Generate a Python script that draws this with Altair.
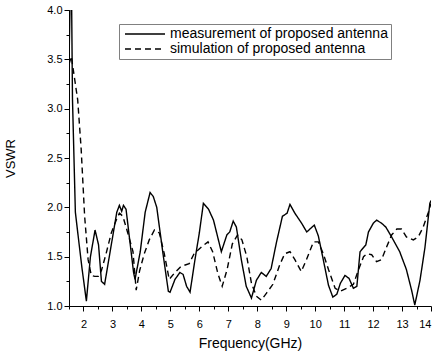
import altair as alt
import pandas as pd

series_names = ["measurement of proposed antenna", "simulation of proposed antenna"]

meas_x = [1.50, 1.55, 1.59, 1.62, 1.72, 1.84, 1.95, 2.10, 2.24, 2.40, 2.52, 2.62, 2.73,
          3.15, 3.24, 3.32, 3.38, 3.47, 3.73, 3.78, 3.96, 4.13, 4.30, 4.41, 4.53, 4.76,
          4.93, 4.99, 5.16, 5.33, 5.44, 5.56, 5.68, 5.85, 6.00, 6.14, 6.32, 6.49, 6.76,
          6.95, 7.05, 7.17, 7.28, 7.45, 7.62, 7.80, 7.97, 8.14, 8.31, 8.48, 8.66, 8.87,
          9.03, 9.13, 9.30, 9.53, 9.71, 9.82, 9.97, 10.11, 10.28, 10.46, 10.61, 10.75,
          10.87, 11.03, 11.17, 11.32, 11.44, 11.55, 11.75, 11.84, 12.01, 12.12, 12.29,
          12.44, 12.64, 12.92, 13.15, 13.33, 13.44, 13.62, 13.79, 13.96, 14.00]
meas_y = [3.45, 4.30, 4.10, 3.10, 1.95, 1.65, 1.38, 1.05, 1.50, 1.77, 1.62, 1.25, 1.22,
          1.95, 2.02, 1.96, 2.02, 1.98, 1.34, 1.27, 1.55, 1.95, 2.15, 2.11, 2.00, 1.50,
          1.15, 1.14, 1.27, 1.34, 1.32, 1.20, 1.14, 1.47, 1.74, 2.04, 1.98, 1.87, 1.55,
          1.72, 1.75, 1.86, 1.80, 1.47, 1.20, 1.08, 1.26, 1.34, 1.30, 1.38, 1.64, 1.91,
          1.94, 2.03, 1.94, 1.84, 1.75, 1.78, 1.82, 1.71, 1.47, 1.21, 1.09, 1.12,
          1.23, 1.31, 1.28, 1.18, 1.20, 1.55, 1.62, 1.75, 1.84, 1.87, 1.84,
          1.80, 1.70, 1.55, 1.37, 1.16, 1.01, 1.26, 1.59, 2.04, 2.07]

sim_x = [1.50, 1.58, 1.80, 1.92, 2.04, 2.16, 2.27, 2.39, 2.51, 2.62, 2.78, 2.96, 3.13,
         3.24, 3.36, 3.53, 3.71, 3.82, 3.94, 4.10, 4.27, 4.45, 4.62, 4.79, 4.96, 5.13,
         5.36, 5.65, 5.82, 6.08, 6.30, 6.46, 6.64, 6.79, 6.96, 7.14, 7.32, 7.47, 7.64,
         7.80, 7.97, 8.14, 8.32, 8.54, 8.78, 8.95, 9.13, 9.30, 9.52, 9.70, 9.94, 10.11,
         10.28, 10.46, 10.69, 10.87, 11.09, 11.32, 11.50, 11.67, 11.79, 11.95, 12.12,
         12.29, 12.47, 12.64, 12.82, 12.98, 13.15, 13.39, 13.56, 13.73, 13.91, 14.00]
sim_y = [3.45, 3.53, 3.09, 2.59, 1.91, 1.47, 1.31, 1.30, 1.30, 1.36, 1.53, 1.74, 1.87,
         1.94, 1.91, 1.74, 1.55, 1.16, 1.36, 1.53, 1.67, 1.77, 1.74, 1.53, 1.27, 1.33,
         1.40, 1.43, 1.53, 1.60, 1.65, 1.55, 1.33, 1.20, 1.37, 1.63, 1.72, 1.67, 1.50,
         1.23, 1.10, 1.06, 1.13, 1.22, 1.42, 1.53, 1.55, 1.47, 1.35, 1.47, 1.65, 1.65,
         1.53, 1.37, 1.18, 1.15, 1.18, 1.22, 1.37, 1.50, 1.53, 1.52, 1.45,
         1.47, 1.60, 1.72, 1.78, 1.78, 1.70, 1.67, 1.70, 1.80, 1.95, 2.04]

x_tick_values = [1.5, 2, 2.5, 3, 3.5, 4, 4.5, 5, 5.5, 6, 6.5, 7, 7.5, 8, 8.5, 9, 9.5,
                 10, 10.5, 11, 11.5, 12, 12.5, 13, 13.5, 14]
y_tick_values = [1.0, 1.25, 1.5, 1.75, 2.0, 2.25, 2.5, 2.75, 3.0, 3.25, 3.5, 3.75, 4.0]

df = pd.concat([
    pd.DataFrame({"freq": meas_x, "vswr": meas_y, "series": series_names[0],
                  "idx": list(range(len(meas_x)))}),
    pd.DataFrame({"freq": sim_x, "vswr": sim_y, "series": series_names[1],
                  "idx": list(range(len(sim_x)))}),
])

FONT = "Liberation Sans"

chart = alt.Chart(df).mark_line(strokeWidth=1.4, color="black", clip=True).encode(
    x=alt.X("freq:Q",
            scale=alt.Scale(domain=[1.5, 14], nice=False, zero=False),
            axis=alt.Axis(values=x_tick_values, format=".1f",
                          labelExpr="datum.value % 1 === 0 ? format(datum.value, 'd') : ''",
                          tickSize={"condition": {"test": "datum.value % 1 === 0", "value": 5}, "value": 3},
                          labelPadding=7, labelFontSize=11,
                          title="Frequency(GHz)", titleFontSize=14,
                          titleBaseline="alphabetic", titleY=41)),
    y=alt.Y("vswr:Q",
            scale=alt.Scale(domain=[1.0, 4.0], nice=False, zero=False),
            axis=alt.Axis(values=y_tick_values, format=".1f",
                          labelExpr="(datum.value * 2) % 1 === 0 ? datum.label : ''",
                          tickSize={"condition": {"test": "(datum.value * 2) % 1 === 0", "value": 5}, "value": 3},
                          labelPadding=2, labelFontSize=11,
                          title="VSWR", titleFontSize=13,
                          titleAngle=270, titleBaseline="middle", titleAlign="center",
                          titleX=-59, titleY=148)),
    strokeDash=alt.StrokeDash("series:N",
                              scale=alt.Scale(domain=series_names, range=[[1, 0], [6, 4]]),
                              legend=alt.Legend(title=None, orient="none", legendX=50, legendY=14,
                                                symbolType="M-1,0L9,0", symbolSize=64,
                                                symbolStrokeWidth=1.4, symbolStrokeColor="black",
                                                labelFontSize=14, labelFont=FONT, labelColor="black",
                                                labelOffset=34, labelLimit=500,
                                                strokeColor="#808080", fillColor="white",
                                                padding=3, rowPadding=1)),
    detail="series:N",
    order="idx:Q",
).properties(
    width=362, height=296,
    autosize="none",
    padding={"left": 69, "top": 10, "right": 10, "bottom": 46},
    background="white",
).configure_view(stroke=None).configure_axis(
    grid=False, domainColor="black", tickColor="black", labelColor="black",
    titleColor="black", labelFont=FONT, titleFont=FONT, titleFontWeight="normal",
    domainWidth=1, tickWidth=1, labelOverlap=False,
)

chart.save("out.html", embed_options={"renderer": "svg", "actions": False})
